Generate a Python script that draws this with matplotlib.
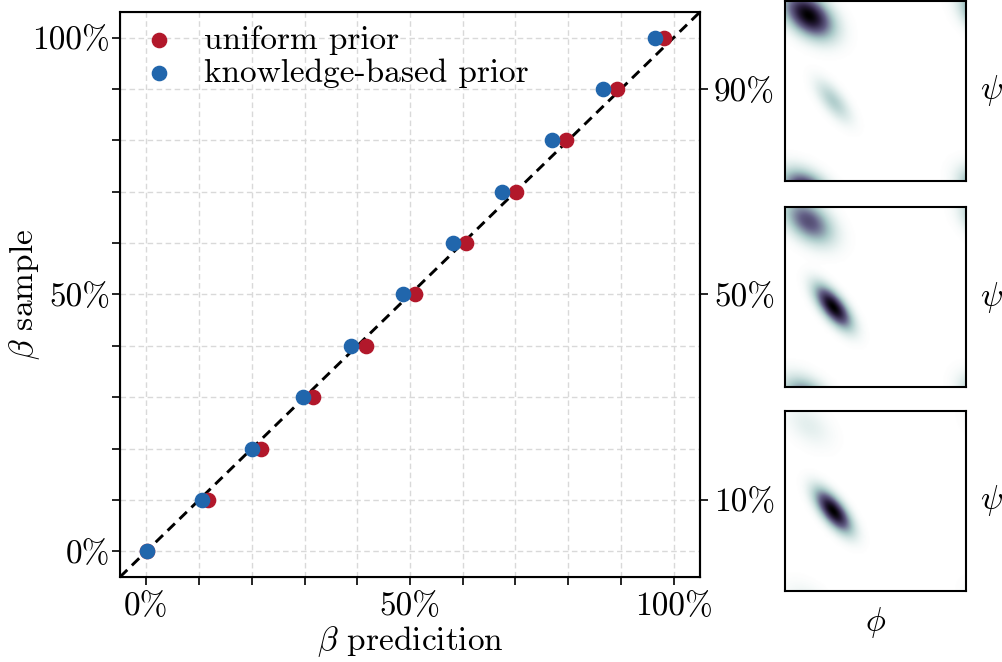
import matplotlib
matplotlib.use("Agg")
import matplotlib.pyplot as plt
import numpy as np
from matplotlib.colors import LinearSegmentedColormap
from matplotlib.ticker import FuncFormatter, MultipleLocator

plt.rcParams.update(
    {
        "font.family": "serif",
        "font.serif": ["cmr10"],
        "mathtext.fontset": "cm",
        "axes.unicode_minus": False,
        "axes.formatter.use_mathtext": True,
        "font.size": 24,
    }
)

# calibration points: beta fraction in the sampled ensemble vs. predicted fraction
beta_sample = [0, 10, 20, 30, 40, 50, 60, 70, 80, 90, 100]
pred_uniform = [0.2, 11.7, 21.8, 31.6, 41.6, 50.9, 60.7, 70.1, 79.6, 89.2, 98.1]
pred_knowledge = [0.1, 10.5, 20.1, 29.7, 38.9, 48.6, 58.2, 67.5, 76.9, 86.6, 96.4]

# Ramachandran insets for a few sampled beta fractions
inset_fractions = [0.9, 0.5, 0.1]
inset_labels = ["90%", "50%", "10%"]

# two-state mixture (phi, psi in degrees): beta sheet and alpha helix basins
beta_center = (-134.0, 152.0)
beta_sigma = (34.0, 21.0)
beta_angle = -40.0
alpha_center = (-85.0, -20.0)
alpha_sigma = (31.0, 13.0)
alpha_angle = -52.0

RED = "#b2182b"
BLUE = "#2166ac"


def wrapped_gaussian(phi, psi, center, sigma, angle_deg):
    """Rotated 2D Gaussian, periodic over the torus [-180, 180)^2."""
    a = np.deg2rad(angle_deg)
    out = np.zeros_like(phi)
    for sx in (-360, 0, 360):
        for sy in (-360, 0, 360):
            dx = phi - center[0] + sx
            dy = psi - center[1] + sy
            u = dx * np.cos(a) + dy * np.sin(a)
            v = -dx * np.sin(a) + dy * np.cos(a)
            out += np.exp(-0.5 * ((u / sigma[0]) ** 2 + (v / sigma[1]) ** 2))
    return out / (2 * np.pi * sigma[0] * sigma[1])


density_cmap = LinearSegmentedColormap.from_list(
    "rama",
    [
        (0.0, "#ffffff"),
        (0.06, "#e4efee"),
        (0.22, "#a9c9c8"),
        (0.50, "#635f86"),
        (0.78, "#2a1f3f"),
        (1.0, "#000000"),
    ],
)

fig = plt.figure(figsize=(10.03, 6.62), dpi=100)
ax = fig.add_axes([0.1196, 0.1284, 0.5783, 0.8535])

ax.grid(True, color="0.85", linestyle=(0, (4, 2.5)), linewidth=1.0)
ax.set_axisbelow(True)

lims = (-5, 105)
ax.plot(lims, lims, color="black", linestyle=(0, (3.5, 2.2)), linewidth=2.1, zorder=2)
ax.scatter(pred_uniform, beta_sample, s=105, color=RED, label="uniform prior", zorder=3)
ax.scatter(pred_knowledge, beta_sample, s=105, color=BLUE, label="knowledge-based prior", zorder=4)

ax.set_xlim(*lims)
ax.set_ylim(*lims)
ax.xaxis.set_major_locator(MultipleLocator(10))
ax.yaxis.set_major_locator(MultipleLocator(10))
pct = FuncFormatter(lambda v, _: f"{v:.0f}%" if round(v) % 50 == 0 else "")
ax.xaxis.set_major_formatter(pct)
ax.yaxis.set_major_formatter(pct)
ax.tick_params(direction="out", length=6, width=1.2)
ax.tick_params(axis="x", pad=5)
ax.tick_params(axis="y", pad=1)
for sp in ax.spines.values():
    sp.set_linewidth(1.5)

ax.set_xlabel(r"$\beta$ predicition", labelpad=2)
ax.set_ylabel(r"$\beta$ sample", va="center")
ax.yaxis.set_label_coords(-0.165, 0.5)

# right-hand ticks pointing at the inset panels
rax = ax.twinx()
rax.set_ylim(*lims)
rax.set_yticks([10, 50, 90])
rax.set_yticklabels(["10%", "50%", "90%"])
rax.tick_params(direction="out", length=6, width=1.2, pad=4)
rax.spines["right"].set_linewidth(1.5)

leg = ax.legend(
    loc="upper left",
    bbox_to_anchor=(0.022, 1.0),
    frameon=False,
    handlelength=0.8,
    handletextpad=0.95,
    labelspacing=0.1,
    borderaxespad=0.2,
    borderpad=0.2,
)

phi_grid = np.linspace(-180, 180, 200)
PHI, PSI = np.meshgrid(phi_grid, phi_grid)
g_beta = wrapped_gaussian(PHI, PSI, beta_center, beta_sigma, beta_angle)
g_alpha = wrapped_gaussian(PHI, PSI, alpha_center, alpha_sigma, alpha_angle)

inset_bottoms = [0.7266, 0.4154, 0.1073]
for i, (frac, bottom) in enumerate(zip(inset_fractions, inset_bottoms)):
    iax = fig.add_axes([0.7827, bottom, 0.1805, 0.2719])
    dens = frac * g_beta + (1 - frac) * g_alpha
    iax.imshow(
        dens / dens.max(),
        origin="lower",
        extent=(-180, 180, -180, 180),
        cmap=density_cmap,
        vmin=0,
        vmax=1,
        interpolation="bilinear",
        aspect="auto",
    )
    iax.set_xticks([])
    iax.set_yticks([])
    for sp in iax.spines.values():
        sp.set_linewidth(1.5)
    iax.yaxis.set_label_position("right")
    iax.set_ylabel(r"$\psi$", rotation=0, labelpad=18, va="center")
    if i == len(inset_fractions) - 1:
        iax.set_xlabel(r"$\phi$", labelpad=10)

fig.savefig("out.png", dpi=100)
